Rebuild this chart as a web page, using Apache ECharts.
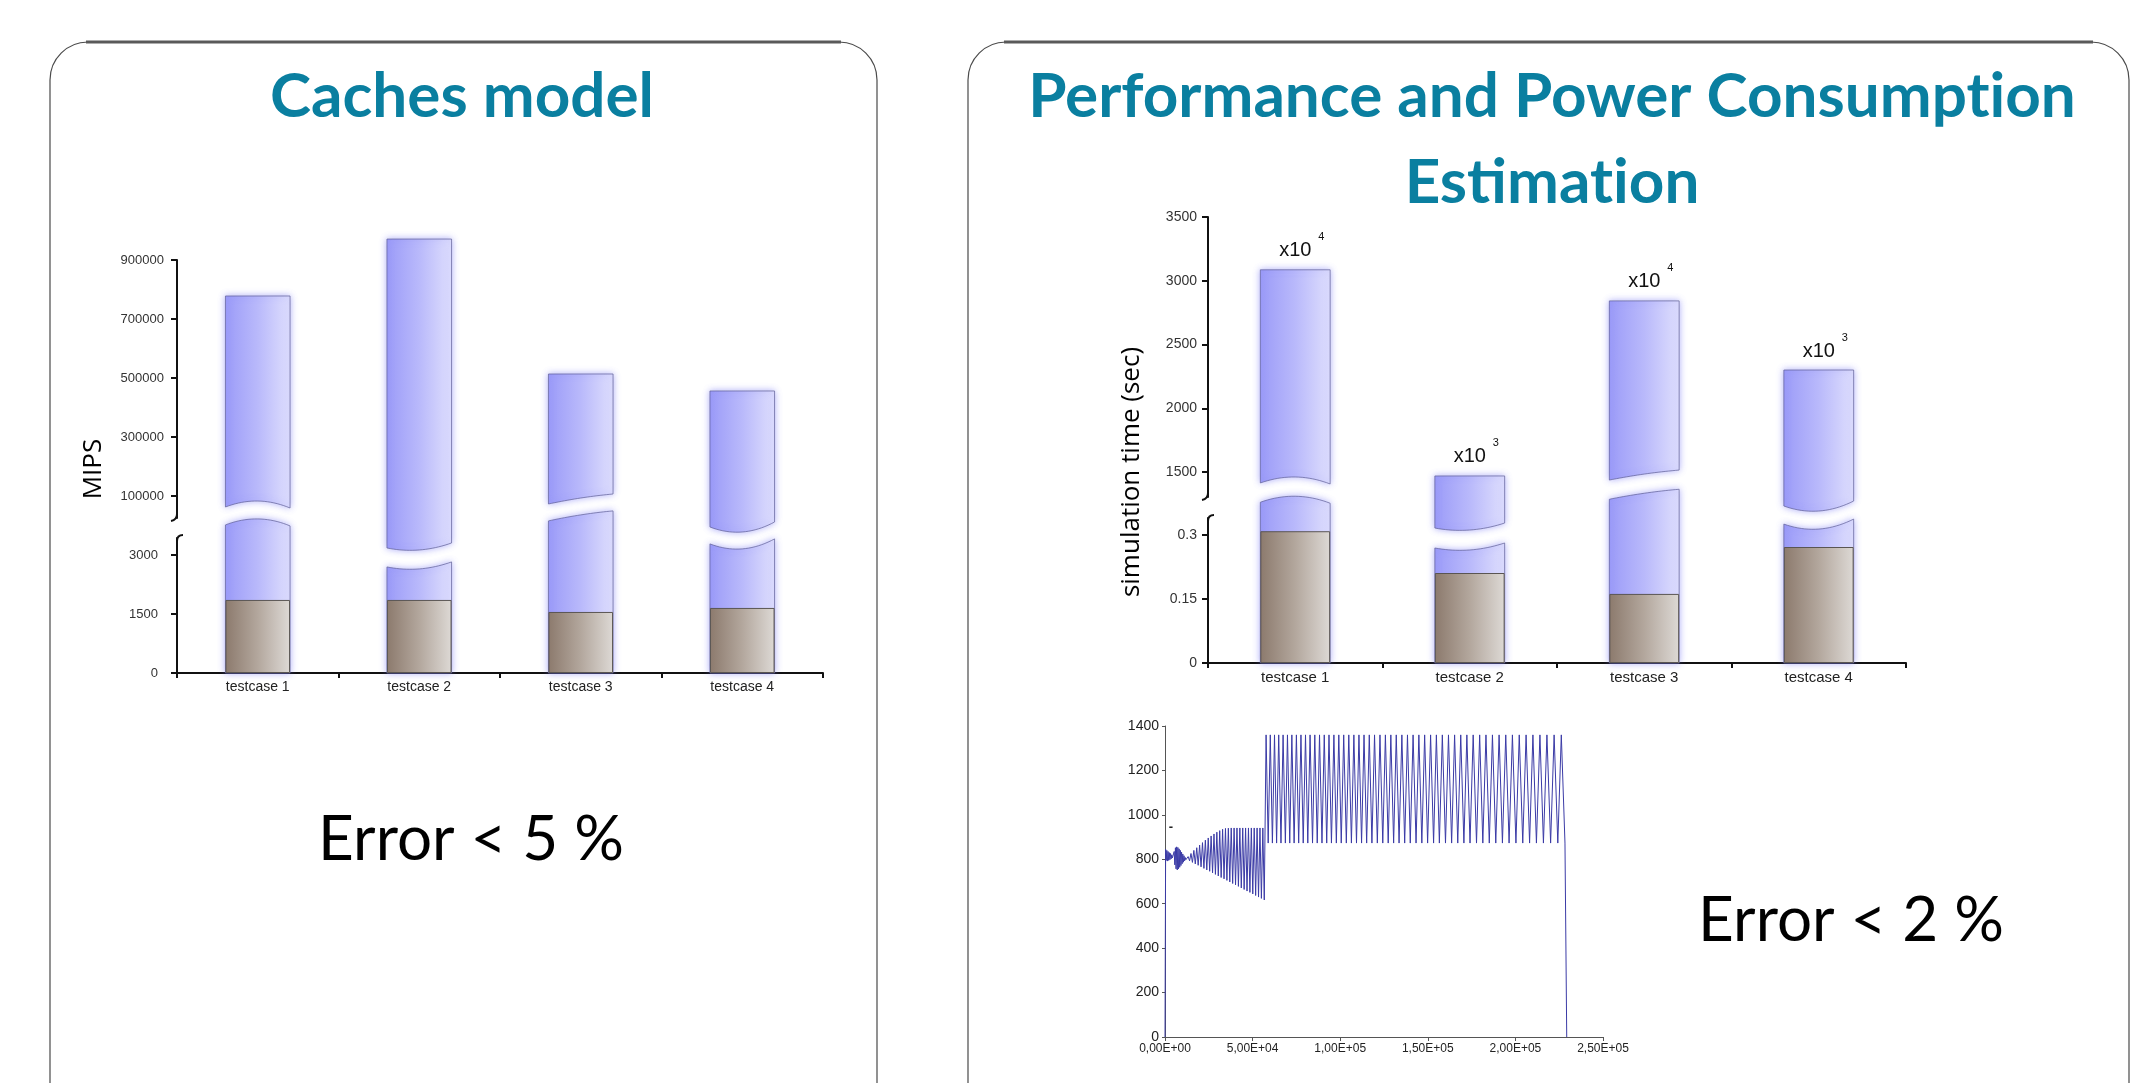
<!DOCTYPE html>
<html><head><meta charset="utf-8">
<script src="https://cdn.jsdelivr.net/npm/echarts@6/dist/echarts.min.js"></script>
<style>html,body{margin:0;padding:0;background:#fff;}#c{width:2132px;height:1083px;}</style>
</head><body><div id="c"></div>
<script>
// ---------------- data ----------------
const categories = ['testcase 1', 'testcase 2', 'testcase 3', 'testcase 4'];

// Caches model (MIPS)
const mipsBase = [1856, 1856, 1551, 1653];             // brown bars, lower scale
const mipsTop = [778000, 971000, 513600, 456000];       // blue bar tops, upper scale
const mipsUpperCut = [83000, -83000, 93200, -22000];    // where the upper blue piece is cut (upper scale)
const mipsLowerCut = [3915, 2644, 4017, 3153];          // where the lower blue piece is cut (lower scale)
const mipsLowerTicks = [0, 1500, 3000];
const mipsUpperTicks = [100000, 300000, 500000, 700000, 900000];

// Simulation time (sec)
const simBase = [0.309, 0.211, 0.162, 0.272];
const simTop = [3086, 1469, 2842, 2300];
const simUpperCut = [1461, 1045, 1484, 1194];
const simLowerCut = [0.391, 0.265, 0.398, 0.314];
const simExp = ['4', '3', '4', '3'];
const simLowerTicks = [0, 0.15, 0.3];
const simUpperTicks = [1500, 2000, 2500, 3000, 3500];

// Power trace [time, value]
const powerTrace = [
 [0,0],[350,845],[700,795],[1050,840],[1400,792],[1750,835],[2100,795],[2450,830],[2800,798],[3150,826],
 [3500,802],[3850,820],[4200,806],[4550,814],[4900,800],[5250,835],[5600,775],[5950,852],[6300,757],[6650,856],
 [7000,752],[7350,853],[7700,757],[8050,847],[8400,764],[8750,840],[9100,772],[9450,832],[9800,780],[10150,824],
 [10500,787],[10850,816],[11200,793],[11550,808],[11900,798],[12250,803],[12400,800],
 [13200,812],[14020,793],[14840,826],[15660,786],[16480,840],[17300,779],[18120,852],[18940,773],[19760,864],[20580,766],
 [21400,875],[22220,759],[23040,886],[23860,752],[24680,896],[25500,746],[26320,905],[27140,739],[27960,914],[28780,732],
 [29600,922],[30420,725],[31240,929],[32060,718],[32880,935],[33700,712],[34520,939],[35340,705],[36160,940],[36980,698],
 [37800,941],[38620,691],[39440,941],[40260,685],[41080,941],[41900,678],[42720,941],[43540,671],[44360,941],[45180,664],
 [46000,941],[46820,657],[47640,941],[48460,651],[49280,941],[50100,644],[50920,941],[51740,637],[52560,941],[53380,630],
 [54200,941],[55020,624],[55840,941],[56660,617],
 [57700,1360],[58900,873],[60100,1360],[61300,873],[62500,1360],[63700,873],[64900,1360],[66200,873],[67400,1360],[68700,873],
 [69900,1360],[71200,873],[72400,1360],[73700,873],[75000,1360],[76300,873],[77600,1360],[78900,873],[80200,1360],[81500,873],
 [82800,1360],[84200,873],[85500,1360],[86900,873],[88200,1360],[89600,873],[90900,1360],[92300,873],[93600,1360],[95000,873],
 [96400,1360],[97800,873],[99200,1360],[100600,873],[102000,1360],[103500,873],[104900,1360],[106400,873],[107800,1360],[109300,873],
 [110700,1360],[112200,873],[113600,1360],[115100,873],[116600,1360],[118100,873],[119600,1360],[121200,873],[122700,1360],[124300,873],
 [125800,1360],[127400,873],[128900,1360],[130500,873],[132000,1360],[133600,873],[135200,1360],[136800,873],[138400,1360],[140000,873],
 [141600,1360],[143300,873],[144900,1360],[146600,873],[148200,1360],[149900,873],[151600,1360],[153300,873],[154900,1360],[156600,873],
 [158300,1360],[160100,873],[161800,1360],[163600,873],[165300,1360],[167100,873],[168800,1360],[170600,873],[172300,1360],[174100,873],
 [175900,1360],[177800,873],[179600,1360],[181400,873],[183200,1360],[185100,873],[186900,1360],[188800,873],[190700,1360],[192600,873],
 [194500,1360],[196400,873],[198300,1360],[200300,873],[202200,1360],[204200,873],[206100,1360],[208100,873],[210000,1360],[212000,873],
 [214000,1360],[216000,873],[218000,1360],[220100,873],[222100,1360],[224200,873],[226200,1360],[228300,873],[229300,0]
];
const powerXTicks = [0, 50000, 100000, 150000, 200000, 250000];
const powerXTickLabels = ['0,00E+00', '5,00E+04', '1,00E+05', '1,50E+05', '2,00E+05', '2,50E+05'];
const powerYTicks = [0, 200, 400, 600, 800, 1000, 1200, 1400];

// ---------------- style ----------------
const WAVES = [[6, 7], [-2, -7], [6, -4], [-5, -10]]; // break-curve edge offsets (px)
const BAR_FRAC = 0.4;
const BLUE_FILL = {type: 'linear', x: 0, y: 0, x2: 1, y2: 0, colorStops: [
  {offset: 0, color: '#9b9bf8'}, {offset: 0.5, color: '#b9b9fb'}, {offset: 1, color: '#dfdffd'}]};
const BROWN_FILL = {type: 'linear', x: 0, y: 0, x2: 1, y2: 0, colorStops: [
  {offset: 0, color: '#8c7a6d'}, {offset: 0.5, color: '#b3a79d'}, {offset: 1, color: '#ddd9d5'}]};
function blueStyle() {
  return {fill: BLUE_FILL, stroke: 'rgba(95,95,150,0.7)', lineWidth: 1,
          shadowBlur: 7, shadowColor: 'rgba(110,110,245,0.55)'};
}
function curve(xl, xr, ym, dl, dr) {
  const pts = [];
  const cy = ym - (dl + dr) / 2;
  const n = 20;
  for (let k = 0; k <= n; k++) {
    const t = k / n;
    const x = xl + (xr - xl) * t;
    const y = (1 - t) * (1 - t) * (ym + dl) + 2 * t * (1 - t) * cy + t * t * (ym + dr);
    pts.push([x, y]);
  }
  return pts;
}
function upperPiece(exps) {
  return function (params, api) {
    const i = api.value(0);
    const top = api.coord([i, api.value(1)]);
    const cut = api.coord([i, api.value(2)]);
    const w = api.size([1, 0])[0] * BAR_FRAC;
    const xl = top[0] - w / 2, xr = top[0] + w / 2;
    const wv = WAVES[params.dataIndex];
    const pts = [[xl, top[1]], [xr, top[1]]].concat(curve(xl, xr, cut[1], wv[0], wv[1]).reverse());
    const children = [{type: 'polygon', shape: {points: pts}, style: blueStyle()}];
    if (exps) {
      children.push({type: 'text', style: {text: 'x10', x: top[0], y: top[1] - 9,
        align: 'center', verticalAlign: 'bottom', fontSize: 20, fontFamily: 'Liberation Sans', fill: '#111'}});
      children.push({type: 'text', style: {text: exps[params.dataIndex], x: top[0] + 23, y: top[1] - 27,
        align: 'left', verticalAlign: 'bottom', fontSize: 11, fontFamily: 'Liberation Sans', fill: '#111'}});
    }
    return {type: 'group', children: children};
  };
}
function lowerPiece(params, api) {
  const i = api.value(0);
  const base = api.coord([i, 0]);
  const cut = api.coord([i, api.value(1)]);
  const w = api.size([1, 0])[0] * BAR_FRAC;
  const xl = base[0] - w / 2, xr = base[0] + w / 2;
  const wv = WAVES[params.dataIndex];
  const pts = [[xl, base[1]]].concat(curve(xl, xr, cut[1], wv[0], wv[1])).concat([[xr, base[1]]]);
  return {type: 'polygon', shape: {points: pts}, style: blueStyle()};
}

const AX = {color: '#111', width: 2};
function catAxis(grid, fontSize, show) {
  return {type: 'category', gridIndex: grid, data: categories, show: show,
    axisLine: {show: true, lineStyle: AX},
    axisTick: {show: true, length: 5, lineStyle: AX},
    axisLabel: {margin: 7, fontSize: fontSize, color: '#222', fontFamily: 'Liberation Sans'},
    splitLine: {show: false}};
}
function valAxis(grid, min, max, ticks, margin, fontSize) {
  return {type: 'value', gridIndex: grid, min: min, max: max,
    axisLine: {show: true, lineStyle: AX},
    axisTick: {show: true, length: 6, lineStyle: AX, customValues: ticks},
    axisLabel: {customValues: ticks, margin: margin, fontSize: fontSize, color: '#333',
      fontFamily: 'Liberation Sans', formatter: v => String(v)},
    splitLine: {show: false}};
}

const TITLE_C = '#0a7fa0';
const TITLE_FONT = 'bold 62px Lato';
function txt(x, y, text, font, fill, rot) {
  return {type: 'text', x: x, y: y, rotation: rot || 0, z: 10,
    style: {text: text, x: 0, y: 0, font: font, fill: fill || '#000',
      align: 'center', verticalAlign: 'middle', textAlign: 'center', textVerticalAlign: 'middle'}};
}
// title drawn as separate pieces so that Lato's "ti" ligature is not used
const measureCtx = document.createElement('canvas').getContext('2d');
function titlePieces(cx, y, parts) {
  measureCtx.font = TITLE_FONT;
  const widths = parts.map(p => measureCtx.measureText(p).width);
  const total = widths.reduce((a, b) => a + b, 0);
  let x = cx - total / 2;
  return parts.map((p, k) => {
    const el = {type: 'text', x: x, y: y, z: 10,
      style: {text: p, x: 0, y: 0, font: TITLE_FONT, fill: TITLE_C,
        align: 'left', verticalAlign: 'middle', textAlign: 'left', textVerticalAlign: 'middle'}};
    x += widths[k];
    return el;
  });
}
function hook(x1, y1, cx, cy, x2, y2) {
  return {type: 'bezierCurve', z: 10, shape: {x1: x1, y1: y1, cpx1: cx, cpy1: cy, x2: x2, y2: y2},
    style: {stroke: '#111', lineWidth: 2, fill: 'none'}};
}

const option = {
  animation: false,
  backgroundColor: '#fff',
  grid: [
    {left: 177, top: 538, width: 646, height: 135},
    {left: 177, top: 260, width: 646, height: 258},
    {left: 1208, top: 518, width: 698, height: 145},
    {left: 1208, top: 217, width: 698, height: 280},
    {left: 1165, top: 726, width: 438, height: 311}
  ],
  xAxis: [
    catAxis(0, 14, true),
    catAxis(1, 14, false),
    catAxis(2, 15, true),
    catAxis(3, 15, false),
    {type: 'value', gridIndex: 4, min: 0, max: 250000, interval: 50000,
      axisLine: {show: true, lineStyle: {color: '#555', width: 1}},
      axisTick: {show: true, length: 4, lineStyle: {color: '#555'}},
      axisLabel: {margin: 6, fontSize: 12, color: '#222', fontFamily: 'Liberation Sans',
        formatter: v => powerXTickLabels[powerXTicks.indexOf(v)] || ''},
      splitLine: {show: false}}
  ],
  yAxis: [
    valAxis(0, 0, 3430, mipsLowerTicks, 19, 13),
    valAxis(1, 25400, 900000, mipsUpperTicks, 13, 13),
    valAxis(2, 0, 0.34, simLowerTicks, 11, 14),
    valAxis(3, 1304, 3500, simUpperTicks, 11, 14),
    {type: 'value', gridIndex: 4, min: 0, max: 1400, interval: 200,
      axisLine: {show: true, lineStyle: {color: '#555', width: 1}},
      axisTick: {show: true, length: 3, lineStyle: {color: '#555'}},
      axisLabel: {margin: 6, fontSize: 14, color: '#222', fontFamily: 'Liberation Sans', formatter: v => String(v)},
      splitLine: {show: false}}
  ],
  series: [
    {type: 'custom', xAxisIndex: 0, yAxisIndex: 0, z: 2, renderItem: lowerPiece, encode: {x: 0, y: 1},
      data: categories.map((c, i) => [i, mipsLowerCut[i]])},
    {type: 'bar', xAxisIndex: 0, yAxisIndex: 0, z: 3, barWidth: '40%', data: mipsBase,
      itemStyle: {color: BROWN_FILL, borderColor: '#5a5552', borderWidth: 1}},
    {type: 'custom', xAxisIndex: 1, yAxisIndex: 1, z: 2, renderItem: upperPiece(null), encode: {x: 0, y: [1, 2]},
      data: categories.map((c, i) => [i, mipsTop[i], mipsUpperCut[i]])},
    {type: 'custom', xAxisIndex: 2, yAxisIndex: 2, z: 2, renderItem: lowerPiece, encode: {x: 0, y: 1},
      data: categories.map((c, i) => [i, simLowerCut[i]])},
    {type: 'bar', xAxisIndex: 2, yAxisIndex: 2, z: 3, barWidth: '40%', data: simBase,
      itemStyle: {color: BROWN_FILL, borderColor: '#5a5552', borderWidth: 1}},
    {type: 'custom', xAxisIndex: 3, yAxisIndex: 3, z: 2, renderItem: upperPiece(simExp), encode: {x: 0, y: [1, 2]},
      data: categories.map((c, i) => [i, simTop[i], simUpperCut[i]])},
    {type: 'line', xAxisIndex: 4, yAxisIndex: 4, data: powerTrace, showSymbol: false, sampling: null,
      lineStyle: {color: '#3b3ba6', width: 1}, silent: true}
  ],
  graphic: {elements: [
    {type: 'rect', z: 0, shape: {x: 50, y: 42, width: 827, height: 1120, r: 38},
      style: {fill: 'none', stroke: '#4a4a4a', lineWidth: 1.2}},
    {type: 'line', z: 0, shape: {x1: 86, y1: 42, x2: 841, y2: 42}, style: {stroke: '#5a5a5a', lineWidth: 3}},
    {type: 'rect', z: 0, shape: {x: 968, y: 42, width: 1161, height: 1120, r: 38},
      style: {fill: 'none', stroke: '#4a4a4a', lineWidth: 1.2}},
    {type: 'line', z: 0, shape: {x1: 1004, y1: 42, x2: 2093, y2: 42}, style: {stroke: '#5a5a5a', lineWidth: 3}},
    txt(462, 97, 'Caches model', TITLE_FONT, TITLE_C)
  ].concat(
    titlePieces(1552, 97, ['Performance and Power Consumpt', 'ion']),
    titlePieces(1552, 183, ['Estimat', 'ion']),
    [
    txt(471, 840, 'Error < 5 %', '62px Lato', '#000'),
    txt(1851, 921, 'Error < 2 %', '62px Lato', '#000'),
    txt(94, 469, 'MIPS', '26px "Open Sans"', '#000', Math.PI / 2),
    txt(1132, 472, 'simulation time (sec)', '26px "Open Sans"', '#000', Math.PI / 2),
    txt(1171, 827, '-', 'bold 13px "Liberation Sans"', '#222'),
    hook(177, 514, 177, 520, 171, 521),
    hook(177, 541, 177, 535, 183, 535),
    hook(1208, 493, 1208, 499, 1202, 500),
    hook(1208, 521, 1208, 515, 1214, 515)
  ])}
};
const chart = echarts.init(document.getElementById('c'), null, {renderer: 'canvas'});
chart.setOption(option);
</script>
</body></html>
